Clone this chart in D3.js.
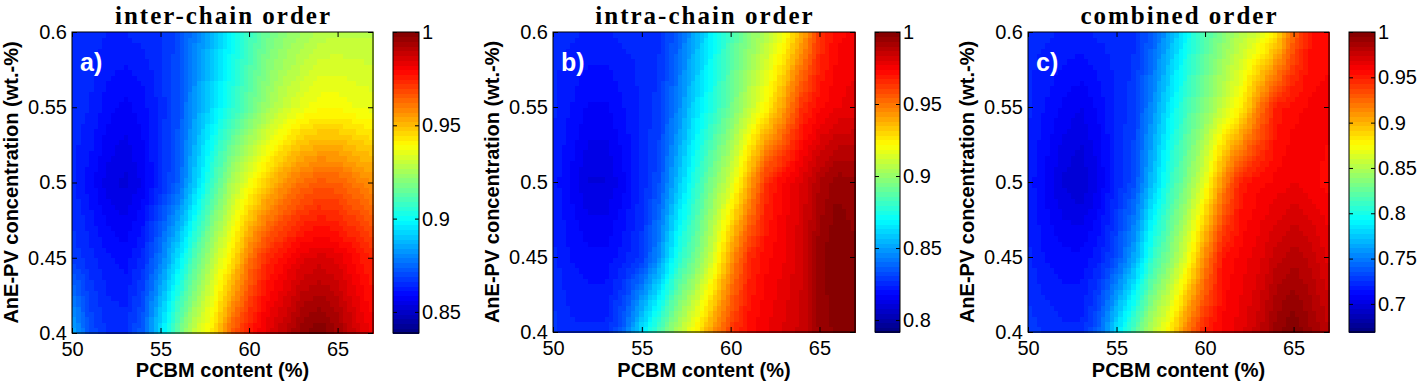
<!DOCTYPE html>
<html>
<head>
<meta charset="utf-8">
<script src="https://cdn.jsdelivr.net/npm/d3@7"></script>
<style>
  body { margin: 0; background: #fff; }
  svg text { font-family: "Liberation Sans", Arial, sans-serif; fill: #000; }
</style>
</head>
<body>
<div class="chart"></div>
<script>
// PCBM content (%) grid columns
const pcbm = [50, 51, 52, 53, 54, 55, 56, 57, 58, 59, 60, 61, 62, 63, 64, 65, 66, 67];
// AnE-PV concentration (wt.-%) grid rows, bottom to top
const anepv = [0.4, 0.45, 0.5, 0.55, 0.6];

// normalized order, one row per anepv value
const interChain = [
  [0.887,0.871,0.866,0.866,0.874,0.895,0.916,0.932,0.944,0.965,0.977,0.984,0.990,0.997,1.000,0.995,0.987,0.981],
  [0.868,0.865,0.862,0.860,0.865,0.878,0.895,0.913,0.929,0.942,0.961,0.974,0.979,0.984,0.986,0.984,0.979,0.974],
  [0.865,0.860,0.855,0.853,0.857,0.865,0.874,0.892,0.910,0.926,0.937,0.948,0.957,0.963,0.966,0.965,0.961,0.957],
  [0.865,0.864,0.860,0.858,0.860,0.865,0.871,0.884,0.895,0.905,0.915,0.924,0.931,0.936,0.939,0.939,0.937,0.936],
  [0.865,0.865,0.864,0.864,0.865,0.866,0.870,0.879,0.889,0.899,0.908,0.916,0.921,0.924,0.928,0.929,0.929,0.929]
];
const intraChain = [
  [0.829,0.825,0.825,0.825,0.838,0.865,0.886,0.906,0.923,0.944,0.963,0.973,0.977,0.981,0.985,0.994,0.998,0.998],
  [0.825,0.821,0.819,0.819,0.823,0.829,0.848,0.875,0.892,0.913,0.942,0.965,0.973,0.977,0.983,0.996,1.000,0.998],
  [0.823,0.817,0.811,0.811,0.817,0.825,0.834,0.856,0.877,0.896,0.913,0.938,0.965,0.975,0.981,0.990,0.996,0.994],
  [0.825,0.821,0.817,0.817,0.821,0.825,0.829,0.844,0.863,0.877,0.892,0.908,0.923,0.942,0.965,0.973,0.977,0.979],
  [0.825,0.825,0.824,0.824,0.825,0.825,0.827,0.836,0.852,0.869,0.884,0.896,0.906,0.919,0.938,0.963,0.973,0.975]
];
const combined = [
  [0.729,0.725,0.722,0.722,0.742,0.785,0.821,0.854,0.881,0.921,0.950,0.960,0.967,0.977,0.993,1.000,0.990,0.980],
  [0.722,0.715,0.712,0.712,0.719,0.735,0.765,0.808,0.835,0.868,0.914,0.954,0.960,0.967,0.977,0.983,0.977,0.967],
  [0.719,0.709,0.699,0.695,0.705,0.722,0.735,0.772,0.808,0.835,0.868,0.914,0.950,0.957,0.960,0.964,0.960,0.957],
  [0.722,0.715,0.709,0.705,0.712,0.722,0.729,0.755,0.788,0.815,0.835,0.858,0.878,0.917,0.950,0.957,0.960,0.960],
  [0.722,0.722,0.720,0.720,0.722,0.722,0.725,0.739,0.765,0.795,0.818,0.835,0.851,0.861,0.881,0.927,0.954,0.957]
];

const titles = ["inter-chain order", "intra-chain order", "combined order"];
const panelLabels = ["a)", "b)", "c)"];
const colorRanges = [[0.8387, 1], [0.7917, 1], [0.669, 1]];
const colorTicks = [
  [0.85, 0.9, 0.95, 1],
  [0.8, 0.85, 0.9, 0.95, 1],
  [0.7, 0.75, 0.8, 0.85, 0.9, 0.95, 1]
];
const xTicks = [50, 55, 60, 65];
const yTicks = [0.4, 0.45, 0.5, 0.55, 0.6];

// MATLAB jet, 64 steps
function jet(t) {
  const k = Math.max(0, Math.min(63, Math.floor(t * 64)));
  const u = (k + 0.5) / 64;
  const c = v => Math.round(255 * Math.max(0, Math.min(1, v)));
  return `rgb(${c(1.5 - Math.abs(4 * u - 3))},${c(1.5 - Math.abs(4 * u - 2))},${c(1.5 - Math.abs(4 * u - 1))})`;
}

// shading interp between the grid nodes
function sample(grid, x, y) {
  let i = d3.bisectRight(pcbm, x) - 1;
  i = Math.max(0, Math.min(pcbm.length - 2, i));
  let j = d3.bisectRight(anepv, y) - 1;
  j = Math.max(0, Math.min(anepv.length - 2, j));
  const fx = (x - pcbm[i]) / (pcbm[i + 1] - pcbm[i]);
  const fy = (y - anepv[j]) / (anepv[j + 1] - anepv[j]);
  const a = grid[j][i] * (1 - fx) + grid[j][i + 1] * fx;
  const b = grid[j + 1][i] * (1 - fx) + grid[j + 1][i + 1] * fx;
  return a * (1 - fy) + b * fy;
}

const svg = d3.select(".chart")
  .append("svg")
  .attr("width", 1418)
  .attr("height", 382);

const panels = [
  { grid: interChain, left: 72, right: 373, top: 32, bottom: 333, cbLeft: 393, cbWidth: 26, yLabelX: 18 },
  { grid: intraChain, left: 553, right: 855, top: 32, bottom: 332, cbLeft: 875, cbWidth: 25, yLabelX: 499 },
  { grid: combined, left: 1028, right: 1329, top: 32, bottom: 332, cbLeft: 1349, cbWidth: 26, yLabelX: 974 }
];

panels.forEach((p, n) => {
  const x = d3.scaleLinear().domain([50, 67]).range([p.left, p.right]);
  const y = d3.scaleLinear().domain([0.4, 0.6]).range([p.bottom, p.top]);
  const [lo, hi] = colorRanges[n];
  const color = v => jet((v - lo) / (hi - lo));

  // fine cells
  const nx = 70, ny = 56;
  const cells = [];
  const dx = 17 / nx, dy = 0.2 / ny;
  for (let i = 0; i < nx; i++) {
    for (let j = 0; j < ny; j++) {
      const cx = 50 + dx * (i + 0.5), cy = 0.4 + dy * (j + 0.5);
      cells.push({ x0: 50 + dx * i, y0: 0.4 + dy * j, v: sample(p.grid, cx, cy) });
    }
  }
  const g = svg.append("g");
  g.selectAll("rect.cell")
    .data(cells)
    .join("rect")
    .attr("class", "cell")
    .attr("x", d => x(d.x0))
    .attr("y", d => y(d.y0 + dy))
    .attr("width", x(50 + dx) - x(50) + 0.6)
    .attr("height", y(0.4) - y(0.4 + dy) + 0.6)
    .attr("fill", d => color(d.v))
    .attr("shape-rendering", "crispEdges");

  // frame
  g.append("rect")
    .attr("x", p.left).attr("y", p.top)
    .attr("width", p.right - p.left).attr("height", p.bottom - p.top)
    .attr("fill", "none").attr("stroke", "#000").attr("stroke-width", 1);

  // axes, ticks pointing inward
  g.append("g").attr("transform", `translate(0,${p.bottom})`)
    .call(d3.axisBottom(x).tickValues(xTicks).tickSizeInner(-5).tickSizeOuter(0).tickPadding(9))
    .call(a => a.select(".domain").remove())
    .call(a => a.selectAll("text").attr("font-size", 20).attr("font-family", "Liberation Sans, Arial"));
  g.append("g").attr("transform", `translate(0,${p.top})`)
    .call(d3.axisTop(x).tickValues(xTicks).tickSizeInner(-5).tickSizeOuter(0).tickFormat(""))
    .call(a => a.select(".domain").remove());
  g.append("g").attr("transform", `translate(${p.left},0)`)
    .call(d3.axisLeft(y).tickValues(yTicks).tickSizeInner(-5).tickSizeOuter(0).tickPadding(5).tickFormat(d3.format("~g")))
    .call(a => a.select(".domain").remove())
    .call(a => a.selectAll("text").attr("font-size", 20).attr("font-family", "Liberation Sans, Arial"));
  g.append("g").attr("transform", `translate(${p.right},0)`)
    .call(d3.axisRight(y).tickValues(yTicks).tickSizeInner(-5).tickSizeOuter(0).tickFormat(""))
    .call(a => a.select(".domain").remove());

  // titles and labels
  g.append("text")
    .attr("x", (p.left + p.right) / 2 + 1).attr("y", 24)
    .attr("text-anchor", "middle")
    .style("font-family", "Liberation Serif, Times New Roman, serif")
    .style("font-weight", "bold").style("font-size", "25px")
    .style("letter-spacing", "2px")
    .text(titles[n]);
  g.append("text")
    .attr("x", (p.left + p.right) / 2).attr("y", 377)
    .attr("text-anchor", "middle")
    .style("font-weight", "bold").style("font-size", "20px")
    .text("PCBM content (%)");
  g.append("text")
    .attr("transform", `translate(${p.yLabelX},${(p.top + p.bottom) / 2}) rotate(-90)`)
    .attr("text-anchor", "middle")
    .style("font-weight", "bold").style("font-size", "20px")
    .text("AnE-PV concentration (wt.-%)");
  g.append("text")
    .attr("x", p.left + 8).attr("y", p.top + 39)
    .style("font-weight", "bold").style("font-size", "25px")
    .style("fill", "#fff")
    .text(panelLabels[n]);

  // colorbar
  const cb = d3.scaleLinear().domain([lo, hi]).range([p.bottom, p.top]);
  const steps = d3.range(64);
  g.selectAll("rect.cb")
    .data(steps)
    .join("rect")
    .attr("class", "cb")
    .attr("x", p.cbLeft)
    .attr("y", k => cb(lo + (hi - lo) * (k + 1) / 64))
    .attr("width", p.cbWidth)
    .attr("height", (p.bottom - p.top) / 64 + 0.6)
    .attr("fill", k => jet((k + 0.5) / 64))
    .attr("shape-rendering", "crispEdges");
  g.append("rect")
    .attr("x", p.cbLeft).attr("y", p.top)
    .attr("width", p.cbWidth).attr("height", p.bottom - p.top)
    .attr("fill", "none").attr("stroke", "#000");
  g.append("g").attr("transform", `translate(${p.cbLeft + p.cbWidth},0)`)
    .call(d3.axisRight(cb).tickValues(colorTicks[n]).tickSizeInner(-4).tickSizeOuter(0).tickPadding(3).tickFormat(d3.format("~g")))
    .call(a => a.select(".domain").remove())
    .call(a => a.selectAll("text").attr("font-size", 20).attr("font-family", "Liberation Sans, Arial"));
  g.append("g").attr("transform", `translate(${p.cbLeft},0)`)
    .call(d3.axisLeft(cb).tickValues(colorTicks[n]).tickSizeInner(-4).tickSizeOuter(0).tickFormat(""))
    .call(a => a.select(".domain").remove());
});
</script>
</body>
</html>
